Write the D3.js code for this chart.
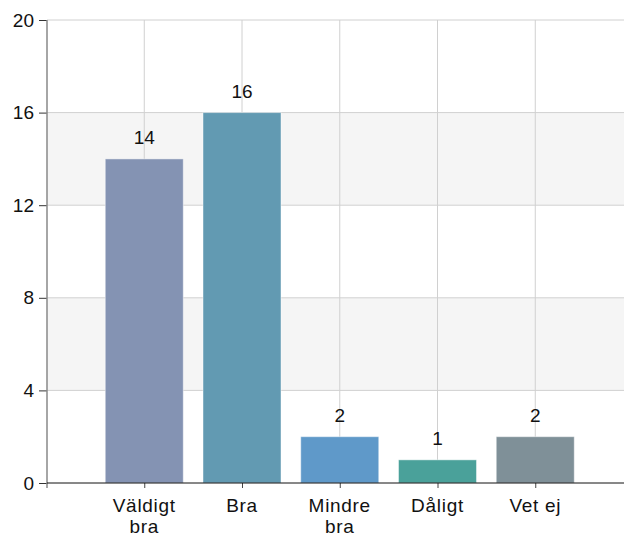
<!DOCTYPE html>
<html>
<head>
<meta charset="utf-8">
<script src="https://cdn.jsdelivr.net/npm/d3@7"></script>
<style>
body { margin: 0; background: #fff; }
text { font-family: Arial, "Liberation Sans", sans-serif; }
</style>
</head>
<body>
<svg id="chart" width="624" height="540"></svg>
<script>
let categories = [['Väldigt', 'bra'], ['Bra'], ['Mindre', 'bra'], ['Dåligt'], ['Vet ej']];
let values = [14, 16, 2, 1, 2];
let colors = ['#8493b3', '#629ab2', '#5f99c9', '#4aa19a', '#7f9098'];
let yTicks = [0, 4, 8, 12, 16, 20];

let width = 624, height = 540;
let plotLeft = 47, plotTop = 20, plotBottom = 483;
let fs = 19;

let svg = d3.select('#chart');
let keys = categories.map(d => d.join(' '));

let x = d3.scalePoint().domain(keys).range([46.5, 633]).padding(1);
let y = d3.scaleLinear().domain([0, 20]).range([plotBottom, plotTop]);
let barW = 78;

// alternating bands
let bands = [[4, 8], [12, 16]];
svg.append('g').selectAll('rect')
    .data(bands)
    .join('rect')
    .attr('x', plotLeft)
    .attr('y', d => y(d[1]))
    .attr('width', width - plotLeft)
    .attr('height', d => y(d[0]) - y(d[1]))
    .attr('fill', '#f5f5f5');

// grid
svg.append('g').selectAll('line')
    .data(yTicks.filter(d => d > 0))
    .join('line')
    .attr('x1', plotLeft).attr('x2', width)
    .attr('y1', d => y(d)).attr('y2', d => y(d))
    .attr('stroke', '#d0d0d0');
svg.append('g').selectAll('line')
    .data(keys)
    .join('line')
    .attr('x1', d => x(d)).attr('x2', d => x(d))
    .attr('y1', plotTop).attr('y2', plotBottom)
    .attr('stroke', '#d0d0d0');

// bars
svg.append('g').selectAll('rect')
    .data(values)
    .join('rect')
    .attr('x', (d, i) => x(keys[i]) - barW / 2)
    .attr('y', d => y(d))
    .attr('width', barW)
    .attr('height', d => plotBottom - y(d))
    .attr('fill', (d, i) => colors[i])
    .attr('stroke', 'rgba(255,255,255,0.45)')
    .attr('stroke-width', 1);

// value labels
svg.append('g').selectAll('text')
    .data(values)
    .join('text')
    .attr('x', (d, i) => x(keys[i]))
    .attr('y', d => y(d) - 15)
    .attr('text-anchor', 'middle')
    .attr('font-size', fs)
    .attr('fill', '#111')
    .text(d => d);

// y axis
let yAxis = svg.append('g')
    .attr('transform', `translate(${plotLeft},0)`)
    .call(d3.axisLeft(y).tickValues(yTicks).tickSize(8).tickPadding(5));
yAxis.select('.domain').remove();
yAxis.selectAll('line').attr('stroke', '#333');
yAxis.selectAll('text').attr('font-size', fs).attr('fill', '#111');
svg.append('line')
    .attr('x1', plotLeft).attr('x2', plotLeft)
    .attr('y1', plotTop).attr('y2', plotBottom + 5)
    .attr('stroke', '#888').attr('stroke-width', 1.5);

// x axis
let xAxis = svg.append('g')
    .attr('transform', `translate(0,${plotBottom})`)
    .call(d3.axisBottom(x).tickSize(5).tickSizeOuter(0));
xAxis.select('.domain').remove();
xAxis.selectAll('line').attr('stroke', '#444');
xAxis.selectAll('text').remove();
svg.append('line')
    .attr('x1', plotLeft).attr('x2', width)
    .attr('y1', plotBottom).attr('y2', plotBottom)
    .attr('stroke', '#111');

let lbl = svg.append('g').selectAll('text')
    .data(categories)
    .join('text')
    .attr('x', (d, i) => x(keys[i]))
    .attr('y', plotBottom + 29)
    .attr('text-anchor', 'middle')
    .attr('font-size', fs)
    .attr('letter-spacing', 0.7)
    .attr('fill', '#111');
lbl.selectAll('tspan')
    .data(d => d)
    .join('tspan')
    .attr('x', function () { return this.parentNode.getAttribute('x'); })
    .attr('dy', (d, i) => i ? 21 : 0)
    .text(d => d);
</script>
</body>
</html>
